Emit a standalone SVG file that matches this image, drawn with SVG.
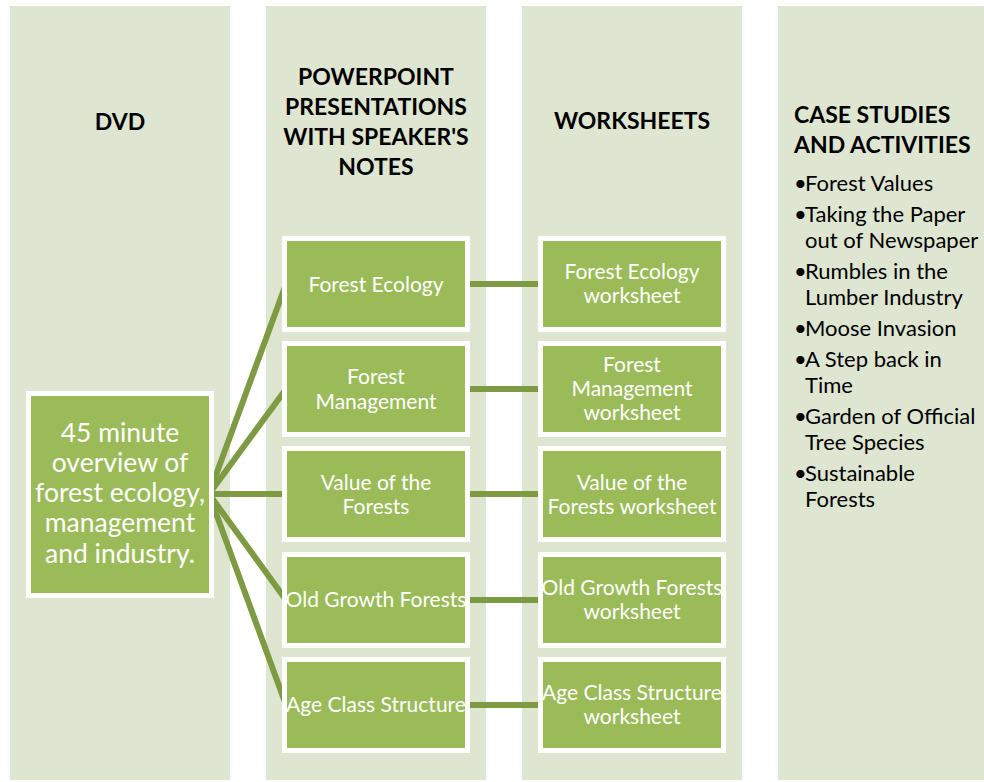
<svg xmlns="http://www.w3.org/2000/svg" width="984" height="782" viewBox="0 0 984 782">
<style>
.col{fill:#DEE6D1}
.box{fill:#9BBB59;stroke:#FFFFFF;stroke-width:5}
.hdr{font-family:Lato,"Liberation Sans",sans-serif;font-weight:bold;font-size:23px;fill:#000;text-anchor:middle}
.hdrl{font-family:Lato,"Liberation Sans",sans-serif;font-weight:bold;font-size:23px;fill:#000}
.t{font-family:Lato,"Liberation Sans",sans-serif;font-size:21px;fill:#fff;text-anchor:middle}
.big{font-family:Lato,"Liberation Sans",sans-serif;font-size:26.5px;fill:#fff;text-anchor:middle}
.li{font-family:Lato,"Liberation Sans",sans-serif;font-size:22px;fill:#000}
.con{stroke:#7E9B44;stroke-width:6;fill:none}
</style>
<rect width="984" height="782" fill="#fff"/>
<g id="columns">
<rect class="col" x="10" y="6" width="220" height="774"/>
<rect class="col" x="266" y="6" width="220" height="774"/>
<rect class="col" x="522" y="6" width="220" height="774"/>
<rect class="col" x="778" y="6" width="206" height="774"/>
</g>
<g id="headers">
<text class="hdr" x="120" y="130">DVD</text>
<text class="hdr" x="376" y="85">POWERPOINT</text>
<text class="hdr" x="376" y="115">PRESENTATIONS</text>
<text class="hdr" x="376" y="145">WITH SPEAKER'S</text>
<text class="hdr" x="376" y="175">NOTES</text>
<text class="hdr" x="632" y="129">WORKSHEETS</text>
<text class="hdrl" x="794" y="123">CASE STUDIES</text>
<text class="hdrl" x="794" y="153">AND ACTIVITIES</text>
</g>
<g id="connectors">
<line class="con" x1="209" y1="494" x2="286" y2="284"/>
<line class="con" x1="209" y1="494" x2="286" y2="389"/>
<line class="con" x1="209" y1="494" x2="286" y2="494"/>
<line class="con" x1="209" y1="494" x2="286" y2="600"/>
<line class="con" x1="209" y1="494" x2="286" y2="705"/>
<line class="con" x1="466" y1="284" x2="542" y2="284"/>
<line class="con" x1="466" y1="389" x2="542" y2="389"/>
<line class="con" x1="466" y1="494" x2="542" y2="494"/>
<line class="con" x1="466" y1="600" x2="542" y2="600"/>
<line class="con" x1="466" y1="705" x2="542" y2="705"/>
</g>
<g id="dvd">
<rect class="box" x="28.5" y="393.5" width="183" height="202"/>
<text class="big" x="120" y="442">45 minute</text>
<text class="big" x="120" y="472">overview of</text>
<text class="big" x="120" y="502">forest ecology,</text>
<text class="big" x="120" y="532">management</text>
<text class="big" x="120" y="563">and industry.</text>
</g>
<g id="ppt1"><rect class="box" x="284.5" y="238.5" width="183" height="91"/><text class="t" x="376" y="292">Forest Ecology</text></g>
<g id="ppt2"><rect class="box" x="284.5" y="343.5" width="183" height="91"/><text class="t" x="376" y="384">Forest</text><text class="t" x="376" y="409">Management</text></g>
<g id="ppt3"><rect class="box" x="284.5" y="448.5" width="183" height="91"/><text class="t" x="376" y="490">Value of the</text><text class="t" x="376" y="514">Forests</text></g>
<g id="ppt4"><rect class="box" x="284.5" y="554.5" width="183" height="91"/><text class="t" x="376" y="607">Old Growth Forests</text></g>
<g id="ppt5"><rect class="box" x="284.5" y="659.5" width="183" height="91"/><text class="t" x="376" y="712">Age Class Structure</text></g>
<g id="ws1"><rect class="box" x="540.5" y="238.5" width="183" height="91"/><text class="t" x="632" y="279">Forest Ecology</text><text class="t" x="632" y="303">worksheet</text></g>
<g id="ws2"><rect class="box" x="540.5" y="343.5" width="183" height="91"/><text class="t" x="632" y="372">Forest</text><text class="t" x="632" y="396">Management</text><text class="t" x="632" y="420">worksheet</text></g>
<g id="ws3"><rect class="box" x="540.5" y="448.5" width="183" height="91"/><text class="t" x="632" y="490">Value of the</text><text class="t" x="632" y="514">Forests worksheet</text></g>
<g id="ws4"><rect class="box" x="540.5" y="554.5" width="183" height="91"/><text class="t" x="632" y="595">Old Growth Forests</text><text class="t" x="632" y="619">worksheet</text></g>
<g id="ws5"><rect class="box" x="540.5" y="659.5" width="183" height="91"/><text class="t" x="632" y="700">Age Class Structure</text><text class="t" x="632" y="724">worksheet</text></g>
<g id="case-list">
<text class="li" x="794" y="191">•</text><text class="li" x="805" y="191">Forest Values</text>
<text class="li" x="794" y="222">•</text><text class="li" x="805" y="222">Taking the Paper</text>
<text class="li" x="805" y="248">out of Newspaper</text>
<text class="li" x="794" y="279">•</text><text class="li" x="805" y="279">Rumbles in the</text>
<text class="li" x="805" y="305">Lumber Industry</text>
<text class="li" x="794" y="336">•</text><text class="li" x="805" y="336">Moose Invasion</text>
<text class="li" x="794" y="367">•</text><text class="li" x="805" y="367">A Step back in</text>
<text class="li" x="805" y="393">Time</text>
<text class="li" x="794" y="424">•</text><text class="li" x="805" y="424">Garden of Official</text>
<text class="li" x="805" y="450">Tree Species</text>
<text class="li" x="794" y="481">•</text><text class="li" x="805" y="481">Sustainable</text>
<text class="li" x="805" y="507">Forests</text>
</g>
</svg>
